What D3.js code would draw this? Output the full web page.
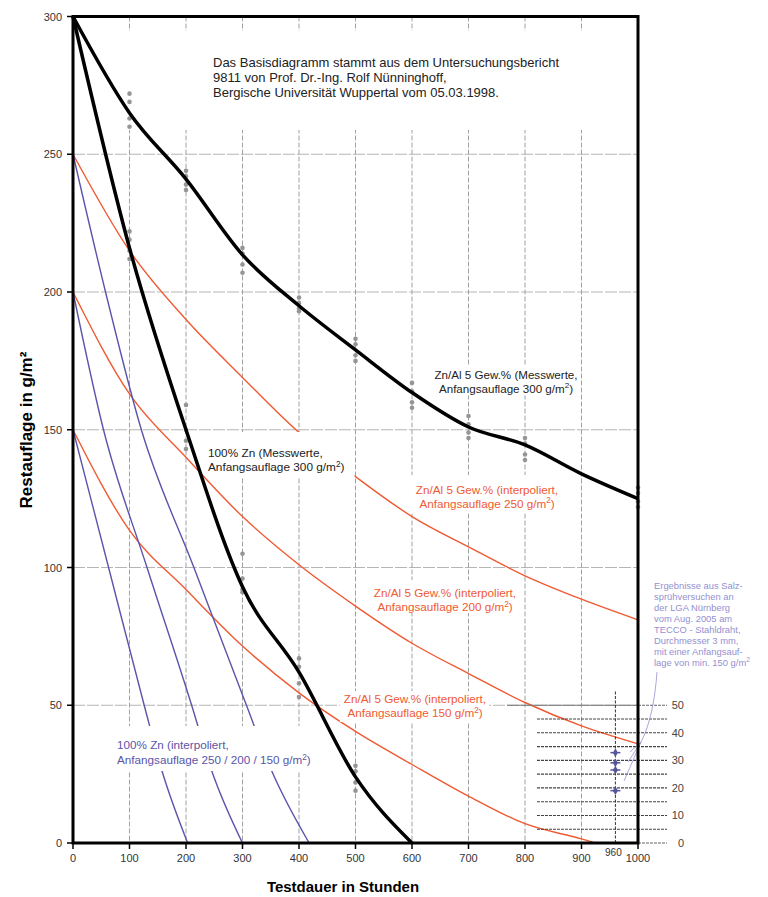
<!DOCTYPE html>
<html>
<head>
<meta charset="utf-8">
<script src="https://cdn.jsdelivr.net/npm/d3@7"></script>
<style>
	body { margin: 0; background: #fff; }
	svg { font-family: "Liberation Sans", Arial, sans-serif; }
</style>
</head>
<body>
<svg id="chart" width="768" height="897"></svg>
<script>
// Axis ticks
const xTicks = [0, 100, 200, 300, 400, 500, 600, 700, 800, 900, 1000];
const yTicks = [0, 50, 100, 150, 200, 250, 300];
const gridX = [100, 200, 300, 400, 500, 600, 700, 800, 900];
const gridY = [50, 100, 150, 200, 250];

// Measured curves (black), hours vs g/m2
const znAlMeasured = [[0, 300], [100, 265], [200, 241], [300, 213.5], [400, 195], [500, 179], [600, 163.5], [700, 151], [800, 144.5], [900, 134], [1000, 125]];
const znMeasured = [[0, 300], [100, 216], [200, 150], [300, 93], [400, 62], [500, 24], [600, 0]];

// Single measurements (grey dots)
const znAlDots = [[100, 272], [100, 269], [100, 263], [100, 260], [200, 244], [200, 242], [200, 239], [200, 237],
	[300, 216], [300, 214], [300, 210], [300, 207], [400, 198], [400, 196], [400, 194], [400, 193],
	[500, 183], [500, 181], [500, 177], [500, 175], [600, 167], [600, 164], [600, 160], [600, 158],
	[700, 155], [700, 152], [700, 149], [700, 147], [800, 147], [800, 145], [800, 141], [800, 139],
	[1000, 129], [1000, 127], [1000, 124], [1000, 122]];
const znDots = [[100, 222], [100, 219], [100, 215], [100, 212], [200, 159], [200, 150], [200, 146], [200, 143],
	[300, 105], [300, 96], [300, 92], [300, 91], [400, 67], [400, 64], [400, 58], [400, 53],
	[500, 28], [500, 26], [500, 22], [500, 19]];

// Interpolated Zn/Al 5% curves (red)
const znAl250 = [[0, 250], [100, 215], [200, 190], [300, 169], [400, 149], [500, 133], [600, 118.5], [700, 107.5], [800, 97], [900, 88.5], [1000, 81]];
const znAl200 = [[0, 200], [100, 163], [200, 140], [300, 118.5], [400, 101], [500, 86], [600, 72.5], [700, 61.5], [800, 51], [900, 42.5], [1000, 36]];
const znAl150 = [[0, 150], [100, 113.5], [200, 92], [300, 71.5], [400, 54.5], [500, 40.5], [600, 28.5], [700, 17], [800, 7], [900, 1.5], [925, 0]];

// Interpolated 100% Zn curves (blue)
const zn250 = [[0, 250], [60, 198], [121, 150], [214, 100], [307, 50], [351, 26.5], [418, 0]];
const zn200 = [[0, 200], [54, 150], [131, 100], [210, 50], [245, 26.5], [300, 0]];
const zn150 = [[0, 150], [63, 100], [126, 50], [157, 26.5], [203, 0]];

// Salt spray results (LGA Nürnberg) at 960 h
const sprayHour = 960;
const sprayValues = [32.8, 29.1, 26.5, 19];
const insetTicks = [0, 10, 20, 30, 40, 50];
const insetLines = [5, 10, 15, 20, 25, 30, 35, 40, 45];

const RED = "#ef5a32";
const BLUE = "#5a55aa";
const LILAC = "#9490d2";

const svg = d3.select("#chart");
const x = d3.scaleLinear().domain([0, 1000]).range([73, 638]);
const y = d3.scaleLinear().domain([0, 300]).range([843, 16.5]);

const gridLayer = svg.append("g");
const curveLayer = svg.append("g");
const boxLayer = svg.append("g");
const blackLayer = svg.append("g");
const insetLayer = svg.append("g");
const textLayer = svg.append("g");

// Grid
gridLayer.selectAll(".gy").data(gridY).join("line")
	.attr("x1", x(0)).attr("x2", x(1000))
	.attr("y1", d => y(d)).attr("y2", d => y(d))
	.attr("stroke", "#b5b5b5").attr("stroke-width", 1)
	.attr("stroke-dasharray", "12,2");
gridLayer.selectAll(".gx").data(gridX).join("line")
	.attr("x1", d => x(d)).attr("x2", d => x(d))
	.attr("y1", y(300)).attr("y2", y(0))
	.attr("stroke", "#a0a0a0").attr("stroke-width", 1)
	.attr("stroke-dasharray", "5,2");

// Coloured curves
const line = d3.line().x(d => x(d[0])).y(d => y(d[1])).curve(d3.curveMonotoneX);
curveLayer.selectAll(".red").data([znAl250, znAl200, znAl150]).join("path")
	.attr("d", line).attr("fill", "none")
	.attr("stroke", RED).attr("stroke-width", 1.4);
curveLayer.selectAll(".blue").data([zn250, zn200, zn150]).join("path")
	.attr("d", line).attr("fill", "none")
	.attr("stroke", BLUE).attr("stroke-width", 1.4);

// Inset for the salt spray results
insetLayer.selectAll(".il").data(insetLines).join("line")
	.attr("x1", 537).attr("x2", 667)
	.attr("y1", d => y(d)).attr("y2", d => y(d))
	.attr("stroke", "#444").attr("stroke-width", 1.1)
	.attr("stroke-dasharray", "3,1");
insetLayer.append("line")
	.attr("x1", 507).attr("x2", x(1000)).attr("y1", y(50)).attr("y2", y(50))
	.attr("stroke", "#777").attr("stroke-width", 1);
insetLayer.selectAll(".ie").data([0, 50]).join("line")
	.attr("x1", x(1000)).attr("x2", 667)
	.attr("y1", d => y(d)).attr("y2", d => y(d))
	.attr("stroke", "#666").attr("stroke-width", 1)
	.attr("stroke-dasharray", "3,1");
insetLayer.selectAll(".it").data(insetTicks).join("text")
	.attr("x", 684).attr("y", d => y(d) + 4)
	.attr("text-anchor", "end")
	.attr("font-size", 11).attr("fill", "#444")
	.text(d => d);
insetLayer.append("line")
	.attr("x1", x(sprayHour)).attr("x2", x(sprayHour))
	.attr("y1", y(55)).attr("y2", y(0))
	.attr("stroke", "#333").attr("stroke-width", 1)
	.attr("stroke-dasharray", "3,1.5");
insetLayer.selectAll(".sm").data(sprayValues).join("path")
	.attr("d", d3.symbol(d3.symbolDiamond, 22))
	.attr("transform", d => `translate(${x(sprayHour)},${y(d)})`)
	.attr("fill", "#55559a");
insetLayer.selectAll(".sb").data(sprayValues).join("line")
	.attr("x1", x(sprayHour) - 5).attr("x2", x(sprayHour) + 5)
	.attr("y1", d => y(d)).attr("y2", d => y(d))
	.attr("stroke", "#55559a").attr("stroke-width", 1.5);
// leader from the note to the points
insetLayer.append("path")
	.attr("d", `M657,672 C655,700 650,725 641,742 M641,742 L630,752 M641,742 L628,762 M641,742 L624,781`)
	.attr("fill", "none").attr("stroke", LILAC).attr("stroke-width", 0.8);

// Black measured curves and dots
blackLayer.selectAll(".dot").data(znAlDots.concat(znDots)).join("circle")
	.attr("cx", d => x(d[0])).attr("cy", d => y(d[1]))
	.attr("r", 2.3).attr("fill", "#959595");
blackLayer.selectAll(".meas").data([znAlMeasured, znMeasured]).join("path")
	.attr("d", line).attr("fill", "none")
	.attr("stroke", "#000").attr("stroke-width", 3.5)
	.attr("stroke-linejoin", "round");

// Frame and axes
const frame = svg.append("g");
frame.append("rect")
	.attr("x", x(0)).attr("y", y(300))
	.attr("width", x(1000) - x(0)).attr("height", y(0) - y(300))
	.attr("fill", "none").attr("stroke", "#000").attr("stroke-width", 3);
frame.selectAll(".yt").data(yTicks).join("line")
	.attr("x1", x(0) - 6).attr("x2", x(0))
	.attr("y1", d => y(d)).attr("y2", d => y(d))
	.attr("stroke", "#000").attr("stroke-width", 1.5);
frame.selectAll(".ytl").data(yTicks).join("text")
	.attr("x", 62).attr("y", d => y(d) + 4)
	.attr("text-anchor", "end").attr("font-size", 11).attr("fill", "#333")
	.text(d => d);
frame.selectAll(".xt").data(xTicks).join("line")
	.attr("x1", d => x(d)).attr("x2", d => x(d))
	.attr("y1", y(0)).attr("y2", y(0) + 6)
	.attr("stroke", "#000").attr("stroke-width", 1.5);
frame.selectAll(".xtl").data(xTicks).join("text")
	.attr("x", d => x(d)).attr("y", y(0) + 19)
	.attr("text-anchor", "middle").attr("font-size", 11).attr("fill", "#333")
	.text(d => d);
frame.append("text")
	.attr("x", x(sprayHour) - 2).attr("y", y(0) + 13)
	.attr("text-anchor", "middle").attr("font-size", 10).attr("fill", "#333")
	.text(sprayHour);

// Axis titles
svg.append("text")
	.attr("transform", "translate(32,430) rotate(-90)")
	.attr("text-anchor", "middle").attr("font-size", 17).attr("font-weight", "bold")
	.text("Restauflage in g/m²");
svg.append("text")
	.attr("x", 343).attr("y", 892)
	.attr("text-anchor", "middle").attr("font-size", 15).attr("font-weight", "bold")
	.text("Testdauer in Stunden");

// Labels with white boxes that hide the grid and coloured curves
function label(lines, lx, ly, opts) {
	const size = opts.size || 11;
	const lh = opts.lh || 14;
	const t = textLayer.append("text")
		.attr("font-size", size).attr("fill", opts.color || "#222")
		.attr("text-anchor", opts.anchor || "start");
	lines.forEach((ln, i) => {
		const row = t.append("tspan").attr("x", lx).attr("y", ly + i * lh);
		const parts = ln.split("²");
		parts.forEach((p, j) => {
			row.append("tspan").attr("dy", j > 0 ? size * 0.38 : null).text(p);
			if (j < parts.length - 1) {
				row.append("tspan").attr("dy", -size * 0.38)
					.attr("font-size", size * 0.7).text("2");
			}
		});
	});
	if (opts.box !== false) {
		const b = t.node().getBBox();
		const pad = opts.pad || [10, 6, 4, 6];
		boxLayer.append("rect")
			.attr("x", b.x - pad[3]).attr("y", b.y - pad[0])
			.attr("width", b.width + pad[1] + pad[3])
			.attr("height", b.height + pad[0] + pad[2])
			.attr("fill", "#fff");
	}
	return t;
}

// note box in the upper area
boxLayer.append("rect")
	.attr("x", 120).attr("y", 31).attr("width", 512).attr("height", 99)
	.attr("fill", "#fff");
label(["Das Basisdiagramm stammt aus dem Untersuchungsbericht",
	"9811 von Prof. Dr.-Ing. Rolf Nünninghoff,",
	"Bergische Universität Wuppertal vom 05.03.1998."], 213, 67, { size: 13, lh: 15, box: false });

label(["Zn/Al 5 Gew.% (Messwerte,", "Anfangsauflage 300 g/m²)"], 506, 379, { size: 11.6, lh: 13.5, anchor: "middle", pad: [2, 2, 1, 2] });
label(["100% Zn (Messwerte,", "Anfangsauflage 300 g/m²)"], 208, 457, { size: 11.8, lh: 14, pad: [14, 10, 4, 2] });
label(["Zn/Al 5 Gew.% (interpoliert,", "Anfangsauflage 250 g/m²)"], 487, 494, { size: 11.7, lh: 13.5, anchor: "middle", color: RED, pad: [8, 6, 4, 6] });
label(["Zn/Al 5 Gew.% (interpoliert,", "Anfangsauflage 200 g/m²)"], 445, 597, { size: 11.7, lh: 14, anchor: "middle", color: RED, pad: [6, 4, 0, 3] });
label(["Zn/Al 5 Gew.% (interpoliert,", "Anfangsauflage 150 g/m²)"], 415, 703, { size: 11.7, lh: 14, anchor: "middle", color: RED, pad: [1, 3, 3, 4] });
label(["100% Zn (interpoliert,", "Anfangsauflage 250 / 200 / 150 g/m²)"], 117, 749, { size: 11.7, lh: 15, color: BLUE, pad: [12, 6, 5, 8] });

label(["Ergebnisse aus Salz-", "sprühversuchen an", "der LGA Nürnberg", "vom Aug. 2005 am",
	"TECCO - Stahldraht,", "Durchmesser 3 mm,", "mit einer Anfangsauf-", "lage von min. 150 g/m²"],
	654, 589, { size: 9.4, lh: 11, color: LILAC, box: false });
</script>
</body>
</html>
